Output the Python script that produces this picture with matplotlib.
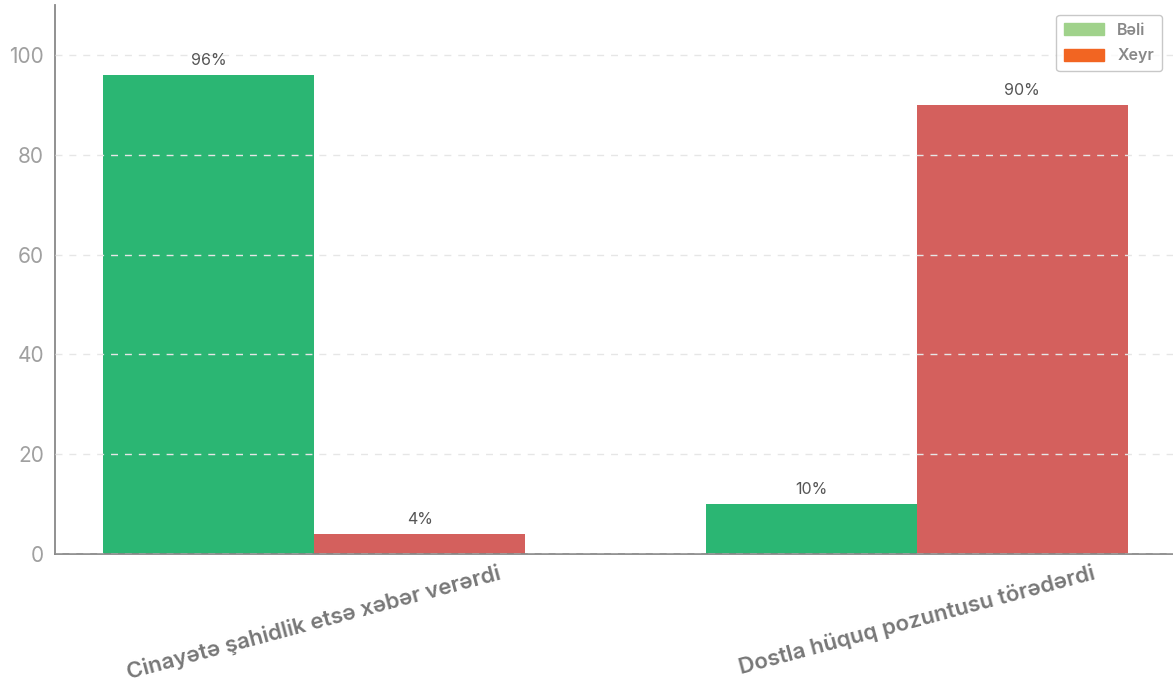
import matplotlib
matplotlib.use("Agg")
import matplotlib.pyplot as plt
import numpy as np
from matplotlib.patches import Patch

categories = ["Cinayətə şahidlik etsə xəbər verərdi", "Dostla hüquq pozuntusu törədərdi"]
series_names = ["Bəli", "Xeyr"]
beli = [96, 10]
xeyr = [4, 90]
y_ticks = [0, 20, 40, 60, 80, 100]

plt.rcParams['font.family'] = ['Inter', 'DejaVu Sans']

fig = plt.figure(figsize=(11.73, 6.83), dpi=100)
ax = fig.add_axes([55/1173, (683-554)/683, (1173-55)/1173, (554-5)/683])

x = np.arange(len(categories))
w = 0.35
b1 = ax.bar(x - w/2, beli, w, color="#2bb673", zorder=2)
b2 = ax.bar(x + w/2, xeyr, w, color="#d4605d", zorder=2)

for bars, vals in ((b1, beli), (b2, xeyr)):
    for r, v in zip(bars, vals):
        ax.annotate(f"{v}%", (r.get_x() + r.get_width()/2, v), xytext=(0, 5),
                    textcoords="offset points", ha="center", va="bottom",
                    fontsize=11.5, color="#555555", zorder=4)

ax.set_xlim(-0.43, 1.425)
ax.set_ylim(0, 110)
ax.set_yticks(y_ticks)
ax.set_yticklabels([str(t) for t in y_ticks], fontsize=15, color="#a0a0a0")
ax.set_xticks(x)
ax.set_xticklabels(categories, rotation=15, ha="center", fontsize=16,
                   color="#777777", fontweight="semibold")
ax.tick_params(axis="both", length=0)
ax.tick_params(axis="x", pad=6)
ax.tick_params(axis="y", pad=8)

ax.yaxis.grid(True, linestyle=(0, (5, 5)), color="#e6e6e6", linewidth=1, zorder=3)
ax.set_axisbelow(False)
for s in ("top", "right"):
    ax.spines[s].set_visible(False)
for s in ("left", "bottom"):
    ax.spines[s].set_color("#888888")
    ax.spines[s].set_linewidth(1.3)

handles = [Patch(color="#a0d28b"), Patch(color="#f26522")]
leg = ax.legend(handles, series_names, loc="upper right", bbox_to_anchor=(0.990, 0.982),
                borderaxespad=0, fontsize=11.5, frameon=True, fancybox=True,
                edgecolor="#bbbbbb", handlelength=2.5, handleheight=0.8,
                labelspacing=0.65, borderpad=0.5, handletextpad=0.8)
for t in leg.get_texts():
    t.set_color("#888888")
    t.set_fontweight("semibold")
leg.set_zorder(5)

fig.savefig("out.png", dpi=100)
